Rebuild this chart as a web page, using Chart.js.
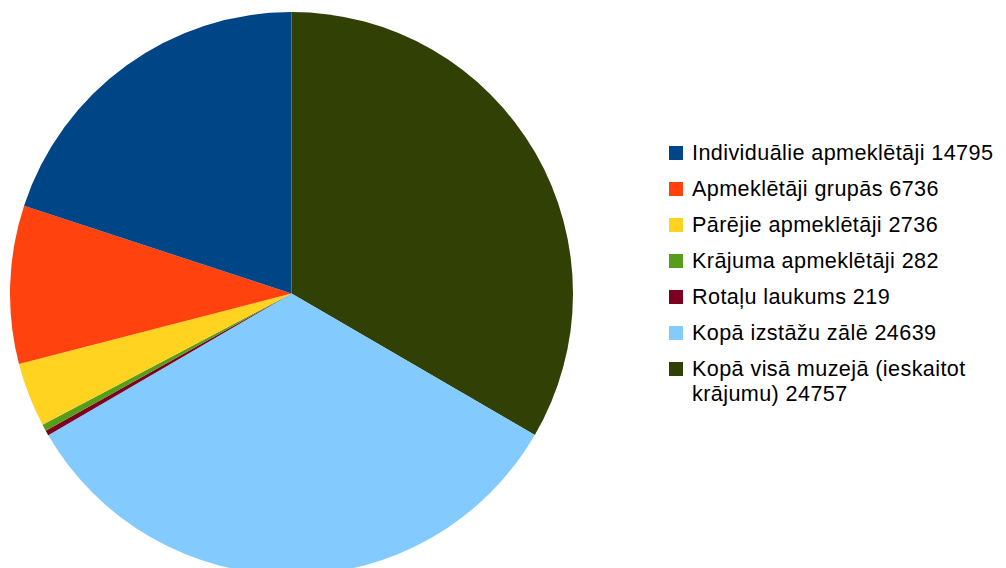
<!DOCTYPE html>
<html>
<head>
<meta charset="utf-8">
<script src="https://cdn.jsdelivr.net/npm/chart.js@4"></script>
<style>
    html, body { margin: 0; padding: 0; background: #fff; overflow: hidden; width: 1006px; height: 568px; }
    #pie { position: absolute; left: 10px; top: 12px; }
    #legend { position: absolute; left: 669px; top: 0; font-family: "Liberation Sans", Arial, sans-serif; font-size: 21.6px; letter-spacing: 0.4px; color: #000; }
    .item { position: absolute; left: 0; white-space: nowrap; }
    .box { position: absolute; left: 0; width: 14px; height: 14px; }
    .txt { position: absolute; left: 23px; width: 314px; white-space: normal; line-height: 25px; }
</style>
</head>
<body>
<canvas id="pie" width="563" height="563"></canvas>
<div id="legend"></div>
<script>
const labels = [
    'Individuālie apmeklētāji 14795',
    'Apmeklētāji grupās 6736',
    'Pārējie apmeklētāji 2736',
    'Krājuma apmeklētāji 282',
    'Rotaļu laukums 219',
    'Kopā izstāžu zālē 24639',
    'Kopā visā muzejā (ieskaitot krājumu) 24757'
];
const values = [14795, 6736, 2736, 282, 219, 24639, 24757];
const colors = ['#004586', '#ff420e', '#ffd320', '#579d1c', '#7e0021', '#83caff', '#314004'];

// slices in LibreOffice run counter-clockwise, Chart.js clockwise -> reverse
const chartLabels = labels.slice().reverse();
const chartValues = values.slice().reverse();
const chartColors = colors.slice().reverse();

const htmlLegend = {
    id: 'htmlLegend',
    afterUpdate(chart) {
        const box = document.getElementById('legend');
        box.innerHTML = '';
        const items = chart.options.plugins.legend.labels.generateLabels(chart).reverse();
        items.forEach((it, i) => {
            const cy = 152.7 + i * 36;
            const row = document.createElement('div');
            row.className = 'item';
            row.style.top = (cy - 7) + 'px';
            const sq = document.createElement('div');
            sq.className = 'box';
            sq.style.background = it.fillStyle;
            const t = document.createElement('div');
            t.className = 'txt';
            t.style.top = (7 - 12.5) + 'px';
            t.textContent = it.text;
            row.appendChild(sq);
            row.appendChild(t);
            box.appendChild(row);
        });
    }
};

new Chart(document.getElementById('pie'), {
    type: 'pie',
    data: {
        labels: chartLabels,
        datasets: [{
            data: chartValues,
            backgroundColor: chartColors,
            borderWidth: 0
        }]
    },
    options: {
        responsive: false,
        animation: false,
        layout: { padding: 0 },
        plugins: {
            legend: { display: false },
            tooltip: { enabled: false }
        }
    },
    plugins: [htmlLegend]
});
</script>
</body>
</html>
